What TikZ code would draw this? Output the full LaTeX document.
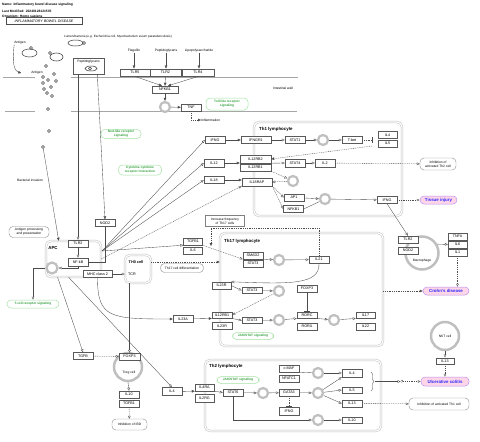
\documentclass[tikz,border=0pt]{standalone}
\usepackage{fontspec}
\setmainfont{Liberation Sans}
\usetikzlibrary{arrows.meta,calc,shapes.geometric,decorations.pathreplacing}
\tikzset{>={Triangle[length=3pt,width=2.6pt]}}
\definecolor{pwgreen}{RGB}{50,160,60}
\definecolor{pwlgreen}{RGB}{165,225,165}
\definecolor{dispink}{RGB}{255,214,232}
\definecolor{disedge}{RGB}{185,145,240}
\definecolor{disblue}{RGB}{40,40,255}
\newcommand{\gfont}{\fontsize{3.3}{3.8}\selectfont}
\newcommand{\genefont}{\fontsize{3.7}{4}\selectfont}
\newcommand{\tfont}{\fontsize{4.4}{5}\selectfont\bfseries}
\tikzset{
  gene/.style={draw=black!65, fill=white, line width=.4pt, inner sep=0pt,
    minimum height=7pt, minimum width=20pt, font=\genefont},
  txt/.style={inner sep=0pt, font=\gfont},
  pathw/.style={draw=pwlgreen, fill=white, rounded corners=4pt, line width=.5pt,
    text=pwgreen, font=\fontsize{3.2}{3.7}\selectfont\bfseries, align=center, inner sep=1pt},
  note/.style={draw=black!45, fill=white, rounded corners=4pt, line width=.4pt,
    font=\gfont, align=center, inner sep=1pt},
  disease/.style={draw=disedge, fill=dispink, rounded corners=4pt, line width=.5pt,
    text=disblue, font=\fontsize{4.4}{5}\selectfont\bfseries, inner sep=1pt},
  cellbox/.style={draw=black!25, double=white, double distance=1.2pt,
    line width=.5pt, rounded corners=5pt, inner sep=0pt},
  txring/.style={circle, draw=black!25, line width=2.2pt, minimum size=10pt, inner sep=0pt},
  bac/.style={circle, draw=black!75, line width=.6pt, minimum size=3pt, inner sep=0pt},
  conn/.style={draw=black!70, line width=.35pt},
  opn/.style={conn, -{Triangle[open,length=3pt,width=2.6pt]}},
  fil/.style={conn, ->},
  inh/.style={conn, -{Bar[width=6pt]}},
  dsh/.style={dash pattern=on 1pt off .8pt},
  wall/.style={draw=black!35, line width=.8pt},
}

\begin{document}
\begin{tikzpicture}[x=1pt,y=-1pt]
\useasboundingbox (0,0) rectangle (480,442);

\node[txt, anchor=west, font=\gfont\bfseries] (hname) at (2,5) {Name: Inflammatory bowel disease signaling};
\node[txt, anchor=west, font=\gfont\bfseries] (hmod) at (2,11) {Last Modified: 20240128121535};
\node[txt, anchor=west, font=\gfont\bfseries] (horg) at (2,17) {Organism: Homo sapiens};
\node[draw=black!70, line width=.4pt, minimum width=76pt, minimum height=7pt, inner sep=0pt,
  font=\fontsize{3.6}{4}\selectfont\itshape] (htitle) at (44,21) {INFLAMMATORY BOWEL DISEASE};

\draw[wall] (3,77) -- (35,77) (71,77) -- (298,77);
\draw[wall] (5,111) -- (35,111) (71,111) -- (297,111);
\node[txt] (iwall) at (283,88) {Intestinal wall};

\node[txt] (antig1) at (20,43) {Antigen};
\node[txt] (antig2) at (37,73) {Antigen};
\node[ellipse, draw=black!80, line width=.5pt, minimum width=15pt, minimum height=8pt, inner sep=0pt] (ell1) at (29.5,53) {};
\node[ellipse, draw=black!80, line width=.5pt, minimum width=13pt, minimum height=8pt, inner sep=0pt] (ell2) at (56.5,57) {};
\node[ellipse, draw=black!80, line width=.5pt, minimum width=15pt, minimum height=6pt, inner sep=0pt] (ell3) at (75.5,43) {};
\node[bac] (bell1) at (31,48) {};
\node[bac] (bell2) at (50,53) {};
\node[bac] (bell3) at (84,43) {};
\foreach \x/\y [count=\k] in {46/66,54/74,43/77,48/80,56/81,43/83,51/87,44/89,47/93,52/96,48/109,49/131,43/147}
  \node[bac] (bact\k) at (\x,\y) {};
\node[txt, anchor=west, font=\fontsize{3.1}{3.5}\selectfont] (lumen) at (64,37) {Lumen/bacteria (e.g. Escherichia coli, Mycobacterium avium paratuberculosis)};
\node[txt] (bacinv) at (30,180) {Bacterial invasion};

\node[draw=black!65, line width=.4pt, minimum width=31pt, minimum height=16pt, inner sep=0pt] (pg) at (88.5,66) {};
\node[txt] (pglab) at (88.5,61.5) {Peptidoglycans};
\node[ellipse, draw=black!80, line width=.5pt, minimum width=12pt, minimum height=5pt, inner sep=0pt] (ell4) at (91,68.5) {};
\node[bac] (bell4) at (90,68.5) {};

\node[txt] (flag) at (134,51) {Flagellin};
\node[txt] (pept) at (166,51) {Peptidoglycans};
\node[txt] (lps) at (199,51) {Lipopolysaccharide};
\node[gene, minimum width=30pt, minimum height=7.5pt] (tlr5) at (135,72.5) {TLR5};
\node[gene, minimum width=31pt, minimum height=7.5pt] (tlr2t) at (165.5,72.5) {TLR2};
\node[gene, minimum width=32pt, minimum height=7.5pt] (tlr4) at (198,72.5) {TLR4};
\node[gene, minimum width=26pt] (nfkb1a) at (165,89.5) {NFKB1};
\node[txring] (txa) at (165,107) {};
\node[gene] (tnf) at (191,107.5) {TNF};
\node[txt, anchor=west] (infl) at (201,120) {Inflammation};
\node[pathw, minimum width=42pt, minimum height=12pt] (tollsig) at (227,104) {Toll-like receptor\\signaling};
\node[pathw, minimum width=40pt, minimum height=9pt] (nodsig) at (121,134) {Nod-like receptor\\signaling};
\node[pathw, minimum width=43pt, minimum height=10pt] (cytsig) at (140,170) {Cytokine-cytokine\\receptor interaction};
\node[note, minimum width=40pt, minimum height=11pt] (antproc) at (29,232) {Antigen processing\\and presentation};

\node[cellbox, minimum width=55pt, minimum height=36pt] (apc) at (73.5,259) {};
\node[txt, font=\tfont] (apclab) at (53,248) {APC};
\node[gene] (tlr2a) at (78,243.5) {TLR2};
\node[gene, minimum height=8pt] (nfkb) at (78,262) {NF-kB};
\node[txring, minimum size=11pt] (txapc) at (52,268) {};
\node[gene, minimum width=29pt] (mhc) at (97.5,274) {MHC class 2};
\node[gene] (nod2a) at (105,223) {NOD2};
\node[pathw, minimum width=52pt, minimum height=8pt] (tcrsig) at (33,304) {T-cell receptor signaling};

\node[cellbox, minimum width=26pt, minimum height=28pt] (th0) at (138,269) {};
\node[txt, font=\fontsize{3.8}{4}\selectfont\bfseries] (th0lab) at (136,262) {TH0 cell};
\node[txt, font=\genefont] (tcrlab) at (132,274) {TCR};
\node[note, minimum width=43pt, minimum height=9pt] (th17diff) at (182,268) {Th17 cell differentiation};
\node[gene, minimum width=19pt] (tgfb1a) at (193,241.5) {TGFB1};
\node[gene, minimum width=19pt] (il6a) at (193,250.5) {IL6};
\node[draw=black!50, line width=.35pt, minimum width=39pt, minimum height=11pt, inner sep=0pt,
  align=center, font=\gfont] (incfreq) at (225,221) {Increase frequency\\of Th17 cells};
\node[gene] (il23a) at (183,319) {IL23A};

\node[cellbox, minimum width=148pt, minimum height=94pt] (th1) at (328,169) {};
\node[txt, anchor=west, font=\tfont] (th1lab) at (259,129) {Th1 lymphocyte};
\node[gene] (ifnga) at (215,140) {IFNG};
\node[gene, minimum width=30pt] (ifngr1) at (256,140) {IFNGR1};
\node[gene] (stat1) at (295,140) {STAT1};
\node[txring] (txb) at (323,140) {};
\node[gene] (tbet) at (352,140) {T-bet};
\node[gene, minimum width=19pt] (il4a) at (387.5,135) {IL4};
\node[gene, minimum width=19pt] (il5a) at (387.5,143.5) {IL5};
\node[gene, minimum width=31pt, minimum height=8pt] (il12rb2) at (255.5,159) {IL12RB2};
\node[gene, minimum width=31pt] (il12rb1b) at (255.5,167.5) {IL12RB1};
\node[gene, minimum height=7.5pt] (il12a) at (214,163) {IL12};
\node[gene, minimum height=7.5pt] (stat4) at (295,163) {STAT4};
\node[gene, minimum height=7.5pt] (il2) at (325,163) {IL2};
\node[note, minimum width=36pt, minimum height=12pt] (inhth2) at (438,164) {Inhibition of\\activated Th2 cell};
\node[gene] (il18a) at (214,180) {IL18};
\node[gene, minimum width=30pt, minimum height=7.5pt] (il18rap) at (257,182) {IL18RAP};
\node[txring] (txc) at (293,181) {};
\node[gene] (ap1) at (294,197.5) {AP1};
\node[gene] (nfkb1b) at (293.5,209) {NFKB1};
\node[txring] (txd) at (325,199) {};
\node[gene] (ifngb) at (387,200) {IFNG};
\node[disease, minimum width=37pt, minimum height=8pt] (tissue) at (438.5,200) {Tissue injury};

\node[cellbox, minimum width=163pt, minimum height=113pt] (th17) at (301.5,289.5) {};
\node[txt, anchor=west, font=\tfont] (th17lab) at (224,241) {Th17 lymphocyte};
\node[gene] (smad2) at (253,255.5) {SMAD2};
\node[gene] (stat3a) at (253,263.5) {STAT3};
\node[txring] (txe) at (279,260) {};
\node[gene] (il21) at (319,259.5) {IL21};
\node[gene, minimum width=19pt] (il23r) at (221.5,285.5) {IL23R};
\node[gene, minimum height=6pt] (stat3b) at (252,290.5) {STAT3};
\node[txring] (txf) at (279,291) {};
\node[gene] (foxp3a) at (307,288.5) {FOXP3};
\node[gene, minimum height=6.5pt] (il12rb1a) at (222,315) {IL12RB1};
\node[gene] (il23rb) at (222,326) {IL23R};
\node[gene, minimum height=6pt] (stat3c) at (252,320.5) {STAT3};
\node[txring] (txg) at (279,320) {};
\node[gene, minimum height=6.5pt] (rorc) at (307,315) {RORC};
\node[gene] (rora) at (307,326.5) {RORA};
\node[txring] (txm) at (334,320) {};
\node[gene, minimum width=19pt, minimum height=6.5pt] (il17) at (365.5,315) {IL17};
\node[gene, minimum width=19pt] (il22) at (365.5,326.5) {IL22};
\node[pathw, minimum width=41pt, minimum height=7pt] (jak1) at (253,336) {JAK/STAT signaling};

\node[txring, minimum size=33pt, line width=2.5pt] (macro) at (422,253) {};
\node[txt] (macrolab) at (422,261) {Macrophage};
\node[gene] (tlr2b) at (408,239.5) {TLR2};
\node[gene] (nod2b) at (408,250.5) {NOD2};
\node[gene, minimum width=19pt, minimum height=6.5pt] (tnfa) at (457.5,236.5) {TNFA};
\node[gene, minimum width=19pt] (il6b) at (457.5,244.5) {IL6};
\node[gene, minimum width=19pt] (il1) at (457.5,252.5) {IL1};
\node[disease, minimum width=46pt, minimum height=8pt] (crohn) at (446,291) {Crohn's disease};

\node[txring, minimum size=28pt, line width=2.5pt] (nkt) at (445,336) {};
\node[txt] (nktlab) at (445,336) {NKT cell};
\node[gene, minimum width=18pt, minimum height=6.5pt] (il13a) at (445,361) {IL13};
\node[disease, minimum width=48pt, minimum height=9pt] (uc) at (445,381.5) {Ulcerative colitis};
\node[txt, font=\fontsize{4.4}{5}\selectfont] (qm) at (402,381.5) {?};
\coordinate (brtip) at (375,381.5);

\node[cellbox, minimum width=176pt, minimum height=71pt] (th2) at (293,395.5) {};
\node[txt, anchor=west, font=\tfont] (th2lab) at (209,366) {Th2 lymphocyte};
\node[pathw, minimum width=42pt, minimum height=7pt] (jak2) at (238,380) {JAK/STAT signaling};
\node[gene, minimum width=19pt] (il4ra) at (204.5,387.5) {IL4RA};
\node[gene, minimum width=19pt, minimum height=8pt] (il2rg) at (204.5,398) {IL2RG};
\node[gene, minimum height=8pt] (il4b) at (172,391.5) {IL4};
\node[gene] (stat6) at (233,392.5) {STAT6};
\node[txring] (txh) at (263,393) {};
\node[gene] (gata3) at (289,392.5) {GATA3};
\node[txring] (txi) at (318,393) {};
\node[gene] (cmaf) at (289,368.5) {c-MAF};
\node[gene] (nfatc1) at (289,378.5) {NFATC1};
\node[txring] (txj) at (318,373) {};
\node[gene, minimum height=8pt] (il4c) at (352,373) {IL4};
\node[gene, minimum height=6.5pt] (il5b) at (352,390) {IL5};
\node[gene] (il13b) at (352,403.5) {IL13};
\node[gene, minimum height=8pt] (ifngc) at (289,411) {IFNG};
\node[txring] (txk) at (318,420) {};
\node[gene, minimum height=6.5pt] (il10b) at (352,420) {IL10};
\node[note, minimum width=60pt, minimum height=12pt] (inhth1) at (439,404) {Inhibition of activated Th1 cell};

\node[txring, minimum size=28pt, line width=2.5pt] (treg) at (128,367) {};
\node[txt] (treglab) at (129,373) {Treg cell};
\node[gene, minimum width=21pt] (foxp3b) at (129.5,356.5) {FOXP3};
\node[gene] (tgfbl) at (83,356) {TGFB};
\node[gene] (il10a) at (129,394.5) {IL10};
\node[gene] (tgfb1b) at (129,403.5) {TGFB1};
\node[note, minimum width=35pt, minimum height=11pt] (inhibd) at (129.5,424.5) {Inhibition of IBD};

\draw[fil] (flag) -- (flag |- tlr5.north);
\draw[fil] (pept) -- (pept |- tlr2t.north);
\draw[fil] (lps) -- (lps |- tlr4.north);
\foreach \s/\dx in {tlr5/-3,tlr2t/0,tlr4/3}
  \draw[fil] (\s.south) -- ([xshift=\dx]nfkb1a.north);
\draw[fil] (nfkb1a) -- (txa);
\draw[fil] (txa) -- (tnf);
\draw[fil,dsh] (tnf.south) |- (infl.west);

\draw[fil] (antig1.south west) .. controls (12,62) and (14,71) .. ([xshift=-10pt]antig2.west);
\draw[opn] (tlr2a.north |- pg.south) -- (tlr2a.north);
\draw[fil] (pg.-43) -- (nod2a.north);
\draw[fil] (bact13) -- (apc.129);

\draw[opn] (tlr2a) -- (nfkb);
\draw[opn] (nfkb.south) |- (txapc.east);
\draw[opn] (txapc.west) -| (tcrsig.north);
\draw[inh] (nod2a.south) |- (nfkb.east);
\draw[opn] (mhc.east) -- (mhc.east -| th0.west);
\draw[fil] (mhc.south) .. controls (97.5,318) and (110,319) .. (il23a.west);
\coordinate (apchub) at (102,251);
\foreach \t in {ifnga.west,il12a.west,il18a.west,tgfb1a.south west}
  \draw[opn] (apchub) -- (\t);
\draw[opn,dsh] (apc.east) -- (il18rap.south west);
\draw[opn] (apc.-131) -- (tgfbl.north);
\draw[opn] (apc.-105) -- (il4b.north);

\draw[fil,dsh] (th0.east |- th0lab) -- (th0lab -| th17.west);
\draw[opn] (foxp3b.north |- th0.south) -- (foxp3b.north);

\draw[opn,dsh] (tgfb1a.south east) -- (smad2.south west);
\coordinate (incf) at (211,228);
\coordinate (incend) at (211,246);
\draw[fil,dsh] (il21.north) |- (incf) -- (incend);
\draw[opn] (smad2.south east) -- (txe);
\draw[opn] (txe) -- (il21);
\draw[opn] (il21.south) .. controls (320,285) and (290,284) .. (il23r.north east);
\draw[opn] (il23r.east) -- (stat3b.west);
\draw[opn] (stat3b) -- (txf);
\draw[opn,dsh] (txf) -- (il12rb1a.east);
\draw[inh] (foxp3a) -- (rorc);
\draw[fil] (il23a) -- (il12rb1a.south west);
\draw[opn] (il12rb1a.south east) -- (stat3c.west);
\draw[opn] (stat3c) -- (txg);
\draw[opn] (txg) -- (rorc.south west);
\draw[opn] (rorc.south east) -- (txm);
\draw[opn] (txm) -- (il17.south west);
\draw[fil,dsh] (th17.east |- crohn) -- (crohn.west);

\draw[fil] (ifnga) -- (ifngr1);
\draw[opn] (ifngr1) -- (stat1);
\draw[opn] (stat1) -- (txb);
\draw[opn] (txb) -- (tbet);
\coordinate (tbar) at (372,140);
\coordinate (tsrc) at (372,146);
\draw[inh,dsh] (tbet) -- (tbar);
\draw[fil,dsh] (tsrc) -- (il12rb2.east);
\draw[fil] (il12a) -- (il12a -| il12rb2.west);
\draw[opn] (il12rb2.south east) -- (stat4.west);
\draw[opn] (stat4) -- (il2);
\draw[opn,dsh] (il2) -- (inhth2);
\draw[fil] (il18a) -- (il18a -| il18rap.west);
\draw[opn,dsh] (il12rb1b.south east) -- (txc);
\draw[opn,dsh] (txc) -- (il18rap.east);
\draw[opn,dsh] (il18rap.south east) -- (ap1.west);
\draw[opn,dsh] (il18rap.south east) -- (nfkb1b.west);
\draw[opn] (ap1) -- (txd);
\draw[conn] (nfkb1b.east) -- (txd);
\draw[opn] (txd) -- (ifngb);
\draw[opn,dsh] (ifngb) -- (tissue);
\draw[opn] (ifngb.south) -- (tlr2b.north);

\draw[opn] (macro.30) -- (il6b.west);
\draw[opn,dsh] (il1.south) -- (il1.south |- crohn.north);

\draw[opn] (nkt) -- (il13a);
\draw[opn,dsh] (il13a) -- (uc);
\draw[opn,dsh] (qm) -- (uc);
\draw[conn, decorate, decoration={brace, amplitude=3pt}] (371,372) -- (371,391);
\draw[opn] (brtip) -- (qm);

\draw[fil] (il4b) -- (il4ra.south west);
\draw[opn] (il4ra.south east) -- (stat6.west);
\draw[opn] (stat6) -- (txh);
\draw[opn] (txh) -- (gata3);
\draw[opn] (gata3) -- (txi);
\draw[conn] (cmaf.south east) -- (txj);
\draw[opn] (txj) -- (il4c.west);
\draw[opn] (txi) -- (il4c.south west);
\draw[opn] (txi) -- (il5b.west);
\draw[opn] (txi) -- (il13b.west);
\draw[inh,dsh] (gata3) -- (ifngc);
\draw[opn] (stat6.south) |- (txk.west);
\draw[opn] (txk) -- (il10b);
\draw[opn,dsh] (il13b) -- (inhth1);

\draw[opn,dsh] (tgfbl) -- (foxp3b);
\draw[opn] (treg.south) -- (il10a.north);
\draw[opn,dsh] (tgfb1b) -- (inhibd);
\end{tikzpicture}
\end{document}
